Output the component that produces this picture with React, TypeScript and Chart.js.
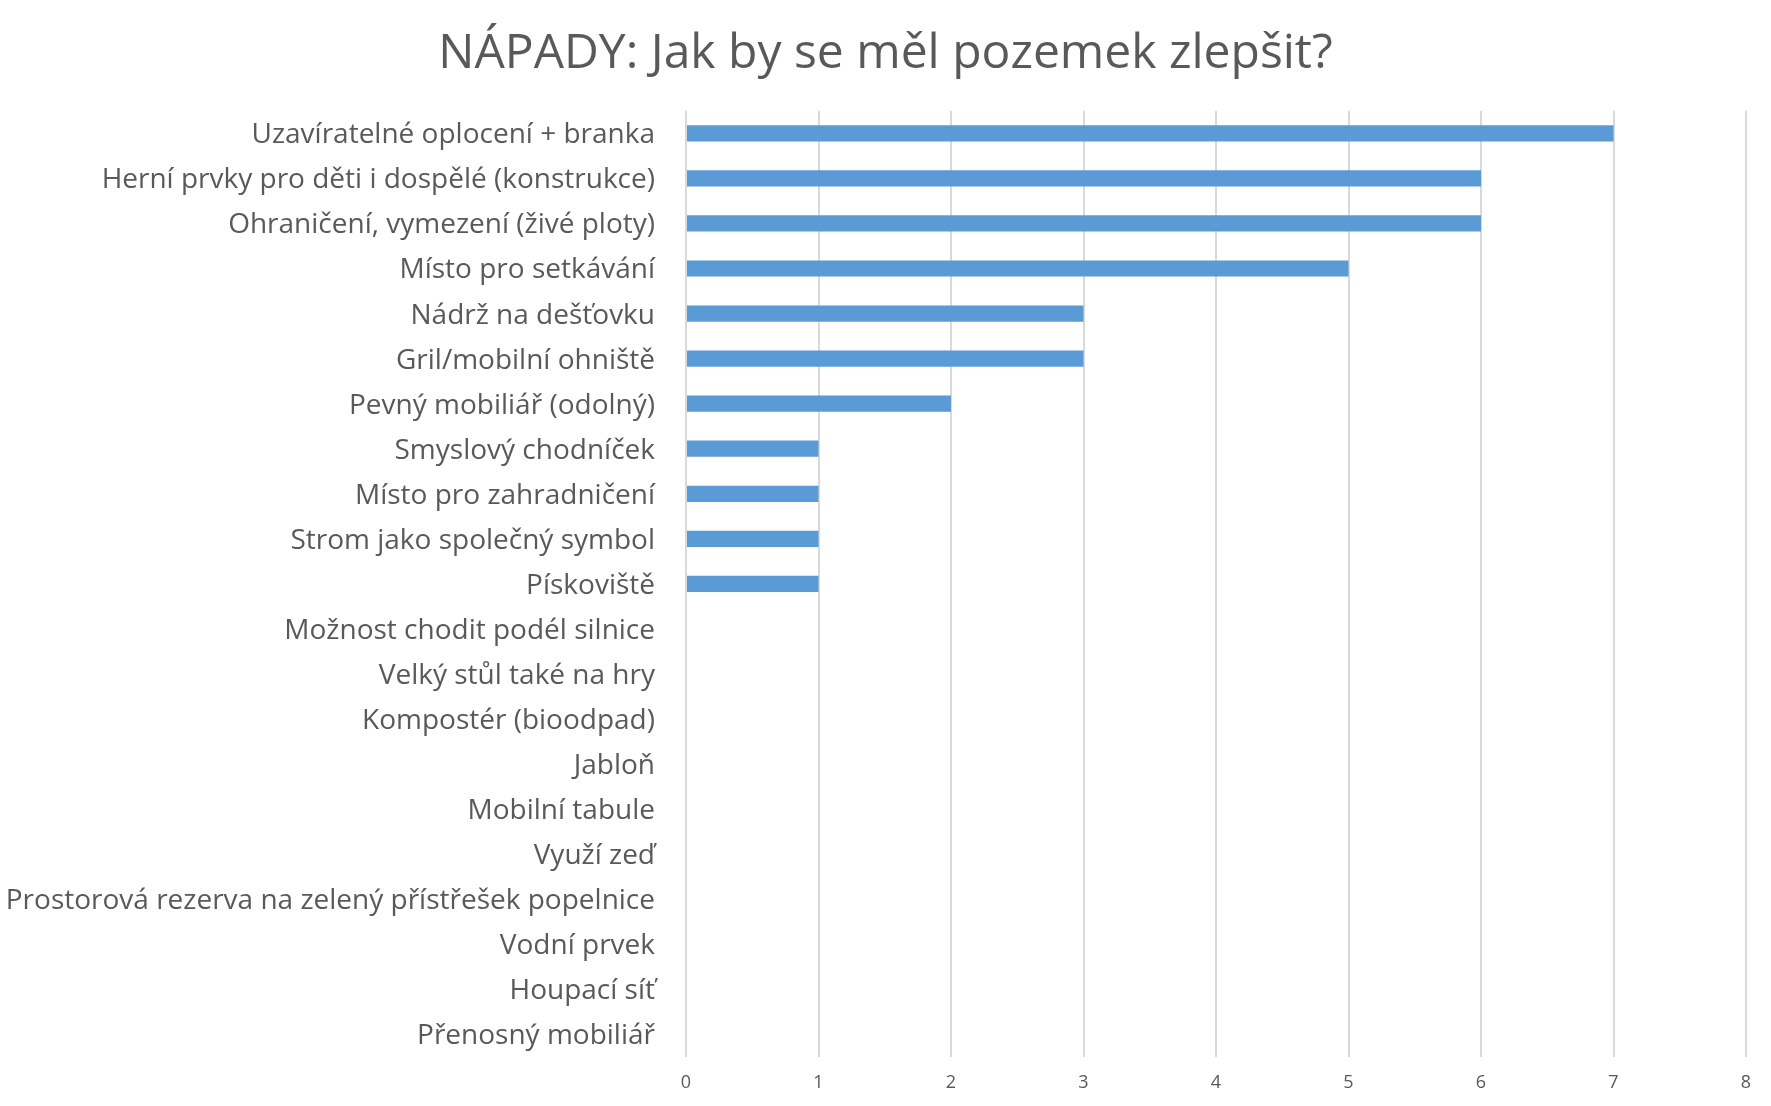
import { useEffect, useRef } from "react";
import { Chart, registerables } from "chart.js";

Chart.register(...registerables);

const TITLE = "NÁPADY: Jak by se měl pozemek zlepšit?";

const categories = [
  "Uzavíratelné oplocení + branka",
  "Herní prvky pro děti i dospělé (konstrukce)",
  "Ohraničení, vymezení (živé ploty)",
  "Místo pro setkávání",
  "Nádrž na dešťovku",
  "Gril/mobilní ohniště",
  "Pevný mobiliář (odolný)",
  "Smyslový chodníček",
  "Místo pro zahradničení",
  "Strom jako společný symbol",
  "Pískoviště",
  "Možnost chodit podél silnice",
  "Velký stůl také na hry",
  "Kompostér (bioodpad)",
  "Jabloň",
  "Mobilní tabule",
  "Využí zeď",
  "Prostorová rezerva na zelený přístřešek popelnice",
  "Vodní prvek",
  "Houpací síť",
  "Přenosný mobiliář",
];

const values = [7, 6, 6, 5, 3, 3, 2, 1, 1, 1, 1, 0, 0, 0, 0, 0, 0, 0, 0, 0, 0];

const xMin = 0;
const xMax = 8;
const xStep = 1;

const FONT = "'Open Sans', sans-serif";
const TEXT = "#595959";

export default function App() {
  const ref = useRef<HTMLCanvasElement>(null);
  useEffect(() => {
    const chart = new Chart(ref.current!, {
      type: "bar",
      data: {
        labels: categories,
        datasets: [
          {
            data: values,
            backgroundColor: "#5B9BD5",
            barPercentage: 0.36,
            categoryPercentage: 1,
            yAxisID: "y",
          },
        ],
      },
      options: {
        indexAxis: "y",
        animation: false,
        responsive: false,
        maintainAspectRatio: false,
        layout: { padding: { left: 0, right: 0, top: 0, bottom: 0 } },
        plugins: {
          legend: { display: false },
          tooltip: { enabled: false },
          title: {
            display: true,
            text: TITLE,
            color: TEXT,
            font: { family: FONT, size: 48, weight: "normal" },
            padding: { top: 26, bottom: 27.2 },
          },
        },
        scales: {
          x: {
            min: xMin,
            max: xMax,
            ticks: {
              stepSize: xStep,
              color: TEXT,
              font: { family: FONT, size: 18 },
              padding: 15,
            },
            grid: { color: "#D9D9D9", lineWidth: 2, drawTicks: false },
            border: { display: false },
            afterFit: (s: any) => {
              s.height = 49;
            },
          },
          y: {
            position: "left",
            grid: { display: false, drawTicks: false },
            border: { display: false },
            ticks: {
              color: TEXT,
              font: { family: FONT, size: 28 },
              padding: 31,
              labelOffset: 2,
              autoSkip: false,
            },
            afterFit: (s: any) => {
              s.width = 686;
            },
          },
          yRight: {
            type: "category",
            position: "right",
            labels: categories,
            grid: { display: false, drawTicks: false },
            border: { display: false },
            ticks: { display: false },
            afterFit: (s: any) => {
              s.width = 25;
            },
          },
        },
      },
    } as any);
    return () => chart.destroy();
  }, []);
  return (
    <div style={{ position: "fixed", left: 0, top: 0, width: 1771, height: 1106, background: "#fff" }}>
      <canvas ref={ref} width={1771} height={1106} style={{ display: "block" }} />
    </div>
  );
}
